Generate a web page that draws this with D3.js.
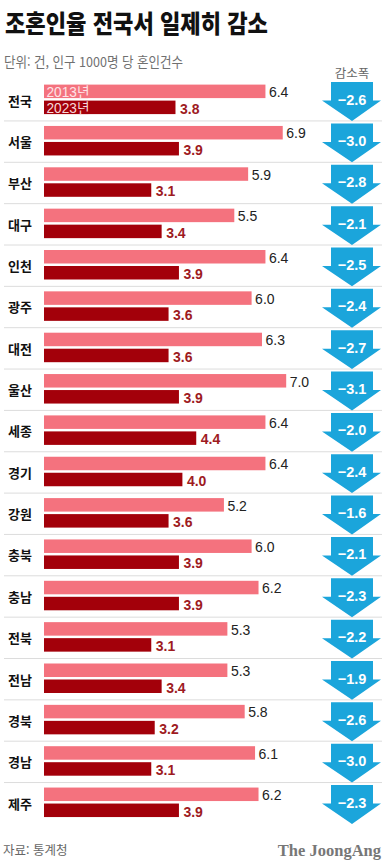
<!DOCTYPE html>
<html lang="ko">
<head>
<meta charset="utf-8">
<script src="https://cdn.jsdelivr.net/npm/d3@7"></script>
<style>
  html, body { margin: 0; padding: 0; background: #fff; }
  svg { display: block; }
  text { font-family: "Liberation Sans", "Noto Sans CJK KR", sans-serif; }
  .kr { font-family: "Noto Sans CJK KR", sans-serif; }
</style>
</head>
<body>
<svg id="chart"></svg>
<script>
"use strict";

// data
const regions = ["전국", "서울", "부산", "대구", "인천", "광주", "대전", "울산", "세종",
  "경기", "강원", "충북", "충남", "전북", "전남", "경북", "경남", "제주"];
const rate2013 = [6.4, 6.9, 5.9, 5.5, 6.4, 6.0, 6.3, 7.0, 6.4, 6.4, 5.2, 6.0, 6.2, 5.3, 5.3, 5.8, 6.1, 6.2];
const rate2023 = [3.8, 3.9, 3.1, 3.4, 3.9, 3.6, 3.6, 3.9, 4.4, 4.0, 3.6, 3.9, 3.9, 3.1, 3.4, 3.2, 3.1, 3.9];
const drops = [-2.6, -3.0, -2.8, -2.1, -2.5, -2.4, -2.7, -3.1, -2.0, -2.4, -1.6, -2.1, -2.3, -2.2, -1.9, -2.6, -3.0, -2.3];
const yearLabels = ["2013년", "2023년"];

const width = 392, height = 862;
const pink = "#f4727e", darkRed = "#a3000a", blue = "#1ba5db";

let svg = d3.select("svg#chart")
  .attr("width", width)
  .attr("height", height);

let xScale = d3.scaleLinear().domain([0, 7]).range([44, 286.2]);
let yScale = d3.scaleBand().domain(regions).range([79.6, 79.6 + 41.35 * regions.length]);
let bw = yScale.bandwidth();

/* title & subtitle */
svg.append("text")
  .attr("class", "kr")
  .attr("x", 5).attr("y", 33)
  .attr("textLength", 263).attr("lengthAdjust", "spacingAndGlyphs")
  .style("font-size", "25px").style("font-weight", 900).style("fill", "#111")
  .text("조혼인율 전국서 일제히 감소");

svg.append("text")
  .attr("class", "kr")
  .attr("x", 4).attr("y", 67)
  .attr("textLength", 179).attr("lengthAdjust", "spacingAndGlyphs")
  .style("font-size", "13.5px").style("fill", "#707070")
  .text("단위: 건, 인구 1000명 당 혼인건수");

svg.append("text")
  .attr("class", "kr")
  .attr("x", 352).attr("y", 77.5)
  .attr("text-anchor", "middle")
  .style("font-size", "12.5px").style("fill", "#666")
  .text("감소폭");

/* rows */
let rows = svg.selectAll("g.row")
  .data(regions)
  .enter()
  .append("g")
  .attr("class", "row")
  .attr("transform", d => `translate(0, ${yScale(d)})`);

// separators
rows.filter((d, i) => i < regions.length - 1)
  .append("line")
  .attr("x1", 4).attr("x2", 382)
  .attr("y1", bw).attr("y2", bw)
  .style("stroke", "#dcdcdc").style("stroke-width", 1);

// arrows
rows.append("path")
  .attr("d", `M331,${2.5} L373,${2.5} L373,${21} L381,${21} L352,${bw} L322,${21} L331,${21} Z`)
  .style("fill", blue);

rows.append("text")
  .attr("x", 352).attr("y", 25)
  .attr("text-anchor", "middle")
  .style("font-size", "14.5px").style("font-weight", "bold").style("fill", "#fff")
  .text((d, i) => "\u2212" + Math.abs(drops[i]).toFixed(1));

// region names
rows.append("text")
  .attr("class", "kr")
  .attr("x", 8).attr("y", 26)
  .style("font-size", "13px").style("font-weight", "bold").style("fill", "#111")
  .text(d => d);

// 2013 bars
rows.append("rect")
  .attr("x", xScale(0)).attr("y", 5)
  .attr("width", (d, i) => xScale(rate2013[i]) - xScale(0))
  .attr("height", 13.5)
  .style("fill", pink);

rows.append("text")
  .attr("x", (d, i) => xScale(rate2013[i]) + 3.5).attr("y", 17.5)
  .style("font-size", "14px").style("fill", "#222")
  .text((d, i) => rate2013[i].toFixed(1));

// 2023 bars
rows.append("rect")
  .attr("x", xScale(0)).attr("y", 21)
  .attr("width", (d, i) => xScale(rate2023[i]) - xScale(0))
  .attr("height", 13.5)
  .style("fill", darkRed);

rows.append("text")
  .attr("x", (d, i) => xScale(rate2023[i]) + 4.5).attr("y", 34)
  .style("font-size", "14px").style("font-weight", "bold").style("fill", "#9e1b1f")
  .text((d, i) => rate2023[i].toFixed(1));

// year tags inside the first row's bars
let first = rows.filter((d, i) => i === 0);
first.append("text")
  .attr("x", 46.5).attr("y", 17.5)
  .attr("textLength", 43).attr("lengthAdjust", "spacingAndGlyphs")
  .style("font-size", "14px").style("fill", "#fde3e6")
  .text(yearLabels[0]);
first.append("text")
  .attr("x", 46.5).attr("y", 33.5)
  .attr("textLength", 43).attr("lengthAdjust", "spacingAndGlyphs")
  .style("font-size", "14px").style("fill", "#f7d8da")
  .text(yearLabels[1]);

/* footer */
svg.append("text")
  .attr("class", "kr")
  .attr("x", 3).attr("y", 855)
  .style("font-size", "12.5px").style("fill", "#666")
  .text("자료: 통계청");

svg.append("text")
  .attr("x", 381).attr("y", 856)
  .attr("text-anchor", "end")
  .style("font-family", "'Liberation Serif', 'DejaVu Serif', serif")
  .style("font-size", "16.5px").style("font-weight", "bold").style("fill", "#777")
  .text("The JoongAng");
</script>
</body>
</html>
